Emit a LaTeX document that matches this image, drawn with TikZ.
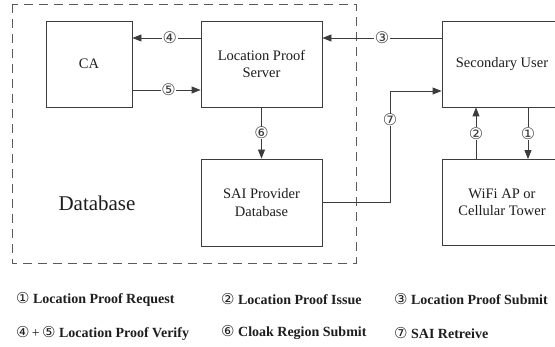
\documentclass[tikz,border=0pt]{standalone}
\usepackage{fontspec}
\setmainfont{Liberation Serif}
\newfontfamily\circfont{DejaVu Sans}
\usetikzlibrary{arrows.meta}
\definecolor{lineg}{HTML}{3C3C3C}
\definecolor{dashg}{HTML}{5A5A5A}
\definecolor{txt}{HTML}{1E1E1E}
\newcommand{\cn}[1]{{\circfont\fontsize{16}{16}\selectfont #1}}
\newcommand{\cl}[1]{{\circfont\mdseries\fontsize{15}{15}\selectfont #1}}
\tikzset{
  blk/.style={draw=lineg, line width=0.9pt, rectangle, align=center, text=txt,
    font=\fontsize{14.5}{17.5}\selectfont, inner sep=0pt},
  arr/.style={draw=lineg, line width=0.9pt, -{Triangle[length=9pt,width=7pt]}},
  tag/.style={fill=white, inner sep=0.5pt, text=lineg},
  legend/.style={anchor=west, text=txt, font=\fontsize{14}{15}\selectfont\bfseries, inner sep=0pt}
}
\begin{document}
\begin{tikzpicture}[x=1pt,y=-1pt]
\useasboundingbox (0,0) rectangle (555,347);
\fill[white] (0,0) rectangle (555,347);

% database enclosure
\draw[dashg, line width=0.9pt, dash pattern=on 9pt off 6pt] (12,4) rectangle (356,263);
\node[text=txt, font=\fontsize{21}{21}\selectfont, inner sep=0pt] (dbl) at (97,203) {Database};

% blocks
\node[blk, minimum width=86pt, minimum height=86pt] (ca) at (89,64) {CA};
\node[blk, minimum width=121pt, minimum height=86pt] (lps) at (261.5,64) {Location Proof\\Server};
\node[blk, minimum width=121pt, minimum height=87pt] (sai) at (261.5,202.5) {SAI Provider\\Database};
\node[blk, minimum width=120pt, minimum height=86pt] (su) at (502,64) {Secondary User};
\node[blk, minimum width=120pt, minimum height=86pt] (wifi) at (502,202.5) {WiFi AP or\\Cellular Tower};

% connectors
\draw[arr] ([yshift=26pt]lps.west) -- node[tag, pos=0.45] (t4) {\cn{④}} ([yshift=26pt]ca.east);
\draw[arr] ([yshift=-26pt]ca.east) -- node[tag, pos=0.53] (t5) {\cn{⑤}} ([yshift=-26pt]lps.west);
\draw[arr] ([yshift=26pt]su.west) -- node[tag, pos=0.5] (t3) {\cn{③}} ([yshift=26pt]lps.east);
\draw[arr] (lps.south) -- node[tag, pos=0.5] (t6) {\cn{⑥}} (sai.north);
\coordinate (k7) at (390,91);
\draw[arr] (sai.east) -| (k7) -- ([yshift=-27pt]su.west);
\node[tag] (t7) at (390,120) {\cn{⑦}};
\draw[arr] ([xshift=-26pt]wifi.north) -- node[tag, pos=0.5] (t2) {\cn{②}} ([xshift=-26pt]su.south);
\draw[arr] ([xshift=26pt]su.south) -- node[tag, pos=0.5] (t1) {\cn{①}} ([xshift=26pt]wifi.north);

% legend
\node[legend] (l1) at (16,299) {\cl{①} Location Proof Request};
\node[legend] (l2) at (221,299) {\cl{②} Location Proof Issue};
\node[legend] (l3) at (394,299) {\cl{③} Location Proof Submit};
\node[legend] (l4) at (16,333) {\cl{④}\,{\mdseries+}\,\cl{⑤} Location Proof Verify};
\node[legend] (l5) at (221,333) {\cl{⑥} Cloak Region Submit};
\node[legend] (l6) at (394,333) {\cl{⑦} SAI Retreive};
\end{tikzpicture}
\end{document}
